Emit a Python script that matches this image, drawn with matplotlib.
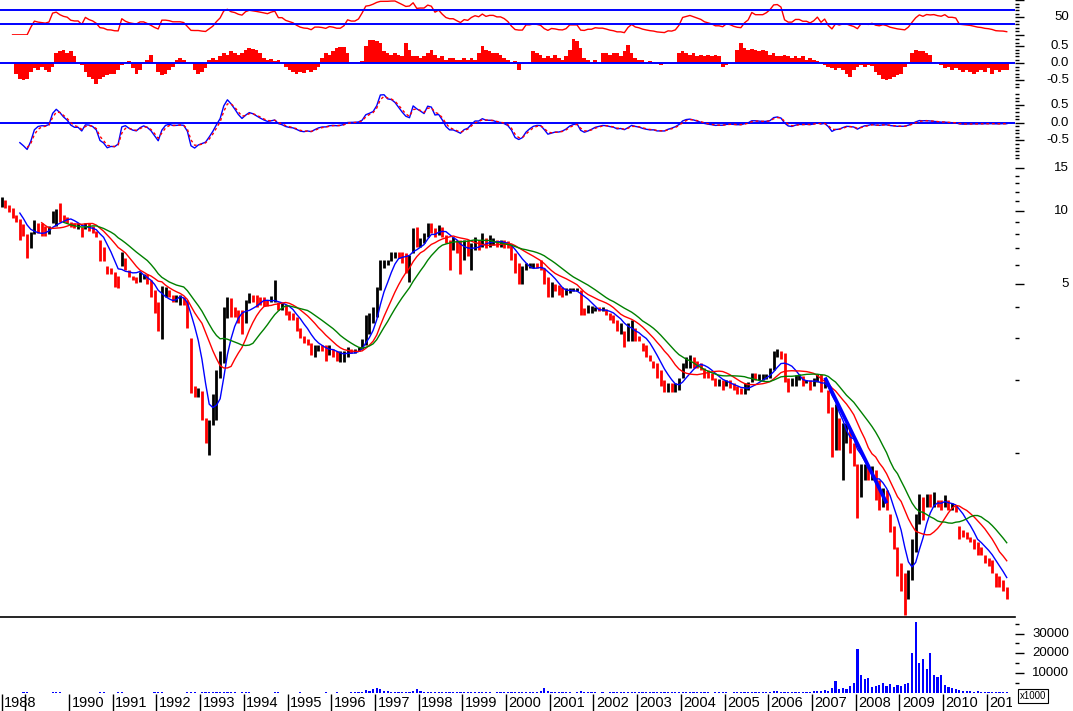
import numpy as np
import pandas as pd
import matplotlib
matplotlib.use("Agg")
import matplotlib.pyplot as plt
from matplotlib.ticker import FixedLocator, NullFormatter
from matplotlib.transforms import blended_transform_factory

# ---------------- data (monthly, Jun 1988 .. Jun 2011) ----------------
START = "1988-06-01"

high = [
    11.4, 11.1, 10.6, 10.3, 9.6, 9.3, 8.8,                                   # 1988
    8.0, 8.2, 9.2, 8.9, 8.9, 8.7, 8.7, 10.0, 10.2, 10.8, 9.6, 9.4,           # 1989
    9.0, 8.9, 8.9, 8.6, 8.9, 8.9, 8.7, 8.3, 7.6, 7.1, 5.9, 5.8,              # 1990
    5.6, 5.4, 6.8, 6.4, 5.7, 5.4, 5.35, 5.6, 5.5, 5.5, 5.2, 4.7,             # 1991
    4.2, 4.9, 4.85, 4.7, 4.5, 4.5, 4.5, 4.4, 4.3, 3.0, 1.9, 1.85,            # 1992
    1.8, 1.4, 1.37, 1.75, 2.2, 2.65, 4.0, 4.4, 4.35, 4.0, 3.9, 3.9,          # 1993
    4.3, 4.6, 4.5, 4.5, 4.4, 4.4, 4.3, 4.45, 5.2, 4.2, 4.15, 4.1,            # 1994
    3.85, 3.8, 3.65, 3.3, 3.05, 2.95, 2.85, 2.8, 2.8, 2.8, 2.8, 2.8,         # 1995
    2.7, 2.65, 2.65, 2.65, 2.75, 2.7, 2.7, 2.75, 2.95, 3.7, 3.8, 4.0,        # 1996
    4.85, 6.3, 6.3, 6.3, 6.8, 6.8, 6.8, 6.8, 6.7, 6.6, 8.5, 8.6,            # 1997
    7.7, 8.1, 8.9, 8.9, 8.5, 8.75, 8.6, 7.95, 7.6, 7.8, 7.6, 7.6,           # 1998
    7.6, 7.6, 7.4, 7.8, 7.6, 8.1, 7.7, 7.95, 7.7, 7.6, 7.6, 7.6,            # 1999
    7.5, 7.2, 6.7, 6.1, 5.9, 6.1, 6.1, 6.1, 6.1, 6.25, 5.8, 5.35,           # 2000
    5.1, 5.0, 4.95, 4.85, 4.8, 4.8, 4.8, 4.8, 4.7, 3.97, 4.1, 4.05,         # 2001
    4.0, 4.0, 4.0, 3.95, 3.8, 3.7, 3.55, 3.45, 3.2, 3.45, 3.55, 3.3,        # 2002
    3.05, 2.85, 2.8, 2.55, 2.4, 2.35, 2.2, 2.0, 1.95, 1.95, 1.95, 2.05,     # 2003
    2.35, 2.5, 2.55, 2.5, 2.4, 2.35, 2.25, 2.2, 2.15, 2.05, 2.03, 2.0,      # 2004
    2.0, 2.0, 1.95, 1.9, 1.85, 1.95, 1.97, 2.15, 2.15, 2.13, 2.13, 2.13,    # 2005
    2.25, 2.65, 2.7, 2.65, 2.6, 2.05, 2.05, 2.1, 2.13, 2.08, 2.0, 2.0,      # 2006
    2.05, 2.13, 2.13, 2.05, 1.82, 1.55, 1.6, 1.4, 1.33, 1.33, 1.25, 1.1,    # 2007
    0.9, 0.9, 0.9, 0.88, 0.88, 0.85, 0.77, 0.72, 0.7, 0.56, 0.5, 0.41,      # 2008
    0.35, 0.32, 0.33, 0.44, 0.56, 0.68, 0.66, 0.68, 0.68, 0.69, 0.64, 0.64, # 2009
    0.67, 0.64, 0.62, 0.61, 0.5, 0.48, 0.47, 0.45, 0.44, 0.43, 0.41, 0.38,  # 2010
    0.37, 0.36, 0.32, 0.31, 0.3, 0.28,                                      # 2011
]
low = [
    10.4, 10.3, 9.9, 9.35, 9.0, 7.6, 7.9,
    6.4, 7.0, 8.0, 8.1, 7.9, 7.9, 8.0, 8.9, 8.7, 9.0, 9.0, 8.9,
    8.6, 8.5, 8.4, 7.8, 8.4, 8.3, 8.1, 7.8, 6.2, 6.2, 5.5, 5.5,
    4.85, 4.8, 5.9, 5.7, 5.35, 5.2, 5.05, 5.1, 5.25, 5.0, 4.4, 3.8,
    3.2, 2.95, 4.4, 4.4, 4.2, 4.2, 4.1, 4.1, 3.3, 1.77, 1.7, 1.7,
    1.37, 1.1, 0.98, 1.3, 1.37, 2.05, 2.35, 3.6, 3.65, 3.65, 3.45, 3.1,
    3.45, 4.15, 4.2, 4.0, 4.1, 4.05, 4.05, 4.2, 4.2, 3.9, 3.9, 3.7,
    3.55, 3.55, 3.2, 3.0, 2.85, 2.8, 2.55, 2.5, 2.65, 2.65, 2.4, 2.55,
    2.5, 2.4, 2.37, 2.37, 2.5, 2.6, 2.6, 2.65, 2.7, 2.8, 3.1, 3.45,
    3.65, 4.7, 5.8, 6.0, 6.2, 6.4, 6.4, 6.1, 5.55, 5.1, 6.7, 7.1,
    7.1, 7.4, 7.8, 8.1, 7.8, 7.95, 7.8, 7.4, 5.7, 6.9, 6.7, 5.5,
    6.3, 6.5, 5.7, 6.9, 6.9, 7.1, 7.0, 7.1, 7.2, 7.1, 7.1, 7.0,
    7.0, 6.3, 5.55, 5.0, 5.0, 5.7, 5.8, 5.8, 5.8, 5.7, 5.0, 4.4,
    4.4, 4.65, 4.5, 4.4, 4.5, 4.6, 4.65, 4.65, 3.7, 3.7, 3.8, 3.8,
    3.85, 3.85, 3.85, 3.7, 3.55, 3.45, 3.2, 3.1, 2.75, 2.9, 2.9, 2.9,
    2.9, 2.65, 2.5, 2.4, 2.25, 2.05, 1.9, 1.78, 1.78, 1.78, 1.78, 1.82,
    2.05, 2.25, 2.25, 2.25, 2.25, 2.2, 2.05, 2.05, 2.0, 1.9, 1.9, 1.82,
    1.9, 1.85, 1.82, 1.75, 1.75, 1.75, 1.82, 1.97, 2.0, 2.0, 2.0, 2.02,
    2.05, 2.2, 2.5, 2.45, 1.97, 1.78, 1.9, 1.9, 2.0, 1.9, 1.95, 1.82,
    1.9, 1.97, 1.78, 1.85, 1.46, 0.96, 1.03, 1.03, 0.77, 1.1, 1.0, 0.88,
    0.54, 0.66, 0.77, 0.77, 0.77, 0.64, 0.58, 0.6, 0.58, 0.47, 0.4, 0.31,
    0.27, 0.215, 0.25, 0.3, 0.39, 0.51, 0.53, 0.6, 0.6, 0.6, 0.6, 0.58,
    0.6, 0.58, 0.58, 0.57, 0.44, 0.45, 0.44, 0.43, 0.4, 0.38, 0.38, 0.35,
    0.34, 0.32, 0.28, 0.28, 0.27, 0.25,
]
close = [
    11.0, 10.6, 10.0, 9.5, 9.1, 8.6, 8.0,
    7.3, 7.9, 8.6, 8.4, 8.3, 8.2, 8.3, 9.5, 9.7, 9.4, 9.2, 9.1,
    8.7, 8.6, 8.6, 8.1, 8.8, 8.5, 8.3, 7.9, 6.7, 6.5, 5.7, 5.6,
    5.1, 5.0, 6.5, 5.9, 5.5, 5.3, 5.15, 5.4, 5.4, 5.1, 4.7, 4.1,
    3.5, 4.6, 4.6, 4.5, 4.3, 4.3, 4.3, 4.2, 3.5, 1.9, 1.8, 1.8,
    1.45, 1.2, 1.4, 1.6, 2.0, 2.4, 3.7, 4.2, 3.9, 3.8, 3.6, 3.5,
    4.1, 4.4, 4.35, 4.3, 4.25, 4.2, 4.15, 4.3, 4.4, 4.0, 4.0, 3.8,
    3.7, 3.6, 3.35, 3.1, 2.95, 2.9, 2.65, 2.75, 2.75, 2.7, 2.6, 2.65,
    2.6, 2.5, 2.5, 2.55, 2.7, 2.65, 2.65, 2.7, 2.9, 3.5, 3.6, 3.9,
    4.7, 6.0, 6.1, 6.1, 6.6, 6.7, 6.6, 6.5, 6.4, 6.5, 8.0, 7.5,
    7.6, 7.6, 8.7, 8.6, 8.0, 8.5, 8.0, 7.5, 7.3, 7.3, 7.0, 6.7,
    7.0, 6.9, 7.2, 7.4, 7.3, 7.6, 7.4, 7.5, 7.5, 7.4, 7.4, 7.3,
    7.1, 6.6, 5.8, 5.6, 5.6, 5.9, 5.9, 5.95, 5.9, 5.8, 5.3, 4.8,
    4.9, 4.8, 4.6, 4.55, 4.6, 4.75, 4.75, 4.75, 3.95, 3.85, 3.9, 3.9,
    3.95, 3.9, 3.9, 3.8, 3.65, 3.55, 3.3, 3.3, 3.05, 3.2, 3.3, 3.05,
    2.95, 2.75, 2.6, 2.45, 2.35, 2.1, 2.0, 1.85, 1.9, 1.85, 1.88, 2.0,
    2.3, 2.35, 2.4, 2.35, 2.3, 2.25, 2.15, 2.1, 2.05, 1.95, 1.95, 1.9,
    1.95, 1.92, 1.85, 1.8, 1.78, 1.85, 1.9, 2.1, 2.05, 2.05, 2.05, 2.1,
    2.2, 2.55, 2.6, 2.55, 2.1, 1.95, 1.95, 2.05, 2.05, 1.97, 1.97, 1.9,
    1.95, 2.05, 1.85, 1.95, 1.55, 1.05, 1.3, 1.15, 1.2, 1.2, 1.07, 0.95,
    0.65, 0.85, 0.85, 0.8, 0.84, 0.7, 0.65, 0.68, 0.62, 0.5, 0.43, 0.35,
    0.3, 0.25, 0.3, 0.4, 0.52, 0.62, 0.58, 0.64, 0.63, 0.64, 0.62, 0.61,
    0.64, 0.6, 0.6, 0.59, 0.47, 0.46, 0.45, 0.44, 0.42, 0.4, 0.39, 0.37,
    0.36, 0.34, 0.3, 0.29, 0.285, 0.26,
]
volume = [
    200, 250, 200, 150, 200, 250, 300,
    300, 250, 200, 250, 200, 150, 200, 300, 350, 300, 250, 200,
    200, 150, 200, 250, 200, 150, 200, 250, 350, 300, 250, 200,
    250, 300, 350, 250, 200, 150, 200, 200, 150, 200, 250, 300,
    350, 400, 250, 200, 150, 200, 150, 200, 300, 500, 350, 250,
    300, 350, 400, 350, 450, 400, 600, 500, 400, 300, 250, 300,
    350, 300, 250, 250, 200, 250, 200, 250, 500, 300, 250, 200,
    250, 200, 250, 300, 250, 200, 250, 200, 200, 250, 300, 250,
    250, 300, 250, 200, 250, 300, 350, 400, 600, 1500, 1200, 1800,
    2500, 2000, 1200, 800, 600, 500, 400, 500, 400, 600, 1200, 2000,
    800, 600, 700, 500, 400, 450, 400, 350, 600, 500, 400, 500,
    400, 350, 500, 400, 350, 300, 350, 300, 250, 300, 350, 400,
    500, 600, 700, 500, 400, 350, 300, 350, 300, 1200, 2500, 800,
    600, 400, 350, 300, 350, 300, 250, 300, 800, 500, 400, 350,
    300, 250, 300, 250, 300, 350, 300, 400, 500, 400, 350, 300,
    300, 350, 400, 350, 300, 400, 500, 450, 400, 350, 300, 400,
    600, 500, 450, 400, 350, 300, 350, 300, 250, 300, 350, 300,
    300, 250, 300, 350, 400, 350, 400, 500, 450, 400, 350, 400,
    500, 900, 800, 600, 700, 500, 400, 350, 300, 350, 300, 400,
    800, 1000, 1000, 1500, 1200, 2500, 6000, 2000, 2500, 2000, 3500, 5000,
    22000, 9000, 7000, 7500, 3000, 3500, 4000, 5000, 3500, 4500, 3000, 4000,
    3500, 4500, 5000, 20000, 36000, 15000, 17000, 12000, 20000, 9000, 8000, 9000,
    4000, 3000, 2500, 2000, 1500, 1200, 1000, 800, 700, 800, 600, 700,
    600, 700, 500, 600, 500, 400,
]
money_flow = [
    0, 0, 0, 0, -0.3, -0.45, -0.5, -0.45, -0.25, -0.15, -0.2, -0.1, -0.2, -0.25,
    -0.1, 0.3, 0.35, 0.38, 0.3, 0.35, 0.2, 0.0, -0.05, -0.25,
    -0.4, -0.45, -0.6, -0.45, -0.4, -0.35, -0.3, -0.3, -0.2, -0.05,
    0.05, 0.08, -0.15, -0.3, -0.2, 0.05, 0.1, 0.25, 0.05, -0.25,
    -0.35, -0.3, -0.2, -0.1, 0.1, 0.15, 0.1, 0.05, 0.05, -0.2,
    -0.3, -0.25, -0.15, 0.1, 0.15, 0.1, 0.2, 0.3, 0.25, 0.35,
    0.3, 0.25, 0.3, 0.4, 0.44, 0.42, 0.4, 0.3, 0.15, 0.1,
    0.12, 0.08, 0.1, 0.05, -0.1, -0.2, -0.25, -0.3, -0.25, -0.28,
    -0.2, -0.25, -0.2, -0.1, 0.15, 0.3, 0.25, 0.35, 0.45, 0.49,
    0.48, 0.3, 0.05, 0.05, 0.05, 0.08, 0.5, 0.68, 0.69, 0.65,
    0.6, 0.35, 0.3, 0.25, 0.3, 0.25, 0.2, 0.6, 0.4, 0.2,
    0.2, 0.15, 0.2, 0.3, 0.4, 0.25, 0.15, 0.2, 0.1, 0.15,
    0.15, 0.1, 0.1, 0.15, 0.1, 0.15, 0.1, 0.3, 0.52, 0.4,
    0.35, 0.3, 0.3, 0.25, 0.15, 0.1, 0.05, 0.08, -0.2, -0.03,
    0.02, 0.05, 0.35, 0.3, 0.25, 0.15, 0.2, 0.15, 0.25, 0.15,
    0.1, 0.2, 0.4, 0.72, 0.65, 0.45, 0.15, 0.1, 0.05, 0.1,
    0.05, 0.3, 0.3, 0.25, 0.3, 0.3, 0.2, 0.35, 0.55, 0.3,
    0.15, 0.1, 0.1, 0.05, 0.08, 0.03, -0.03, -0.05, -0.03, 0.0,
    -0.02, 0.03, 0.3, 0.35, 0.3, 0.25, 0.3, 0.2, 0.25, 0.2,
    0.25, 0.2, 0.25, 0.2, -0.1, -0.05, 0.02, 0.02, 0.4, 0.6,
    0.45, 0.4, 0.42, 0.4, 0.35, 0.4, 0.35, 0.25, 0.3, 0.2,
    0.2, 0.25, 0.2, 0.15, 0.2, 0.15, 0.2, 0.1, 0.15, 0.1,
    0.08, 0.05, -0.05, -0.1, -0.15, -0.2, -0.15, -0.2, -0.3, -0.4,
    -0.2, -0.1, -0.05, -0.1, -0.05, -0.08, -0.25, -0.35, -0.45, -0.5,
    -0.45, -0.4, -0.35, -0.3, -0.1, 0.05, 0.3, 0.4, 0.35, 0.35,
    0.3, 0.25, 0.05, 0.02, -0.05, -0.15, -0.1, -0.2, -0.15, -0.2,
    -0.25, -0.2, -0.25, -0.3, -0.25, -0.2, -0.25, -0.15, -0.3, -0.2,
    -0.25, -0.2, -0.2,
]
# user-drawn trend line (decimal year, price)
trend_x = [2007.30, 2008.71]
trend_y = [2.05, 0.62]

year_labels = ["1988"] + [str(y) for y in range(1990, 2012)]
ma_periods = [6, 12, 18]
ma_colors = ["#0000ff", "#ff0000", "#008000"]
RSI_PERIOD = 7

# ---------------- derived ----------------
n = len(close)
months = pd.date_range(START, periods=n, freq="MS")
t = np.asarray(months.year + (months.month - 0.5) / 12.0, dtype=float)
c = pd.Series(close, dtype=float)
hi = np.array(high, float)
lo = np.array(low, float)

d = c.diff()
gain = d.clip(lower=0).ewm(alpha=1 / RSI_PERIOD, adjust=True).mean()
loss = (-d).clip(lower=0).ewm(alpha=1 / RSI_PERIOD, adjust=True).mean()
rsi_v = (100 * gain / (gain + loss)).to_numpy()
rsi_v[:3] = np.nan

ema_f = c.ewm(span=12 * 12 / 52, adjust=False).mean()
ema_s = c.ewm(span=26 * 12 / 52, adjust=False).mean()
macd = (ema_f - ema_s).to_numpy()
sig = pd.Series(macd).ewm(span=9 * 12 / 52, adjust=False).mean().to_numpy()
macd[:5] = np.nan
sig[:7] = np.nan

# ---------------- figure ----------------
W, H = 1073, 711
plt.rcParams["font.family"] = ["Liberation Sans", "DejaVu Sans"]
fig = plt.figure(figsize=(W / 100, H / 100), dpi=100)
fig.patch.set_facecolor("white")

PXY = 43.7                      # pixels per year
XL = 1990 - 69 / PXY
XR = 1990 + (1015 - 69) / PXY
LABX = 1069 / W

def rect(x0, y0, x1, y1):
    return [x0 / W, 1 - y1 / H, (x1 - x0) / W, (y1 - y0) / H]

def style(ax, major, minor, labels):
    for s in ax.spines.values():
        s.set_visible(False)
    ax.set_facecolor("none")
    ax.set_xlim(XL, XR)
    ax.tick_params(axis="x", bottom=False, labelbottom=False)
    ax.yaxis.set_ticks_position("right")
    ax.yaxis.set_major_locator(FixedLocator(major))
    ax.yaxis.set_minor_locator(FixedLocator(minor))
    ax.yaxis.set_major_formatter(NullFormatter())
    ax.yaxis.set_minor_formatter(NullFormatter())
    ax.tick_params(axis="y", which="major", length=6.5, width=1.0, direction="out", color="black")
    ax.tick_params(axis="y", which="minor", length=3.2, width=1.0, direction="out", color="black")
    tr = blended_transform_factory(fig.transFigure, ax.transData)
    for val, lab in labels:
        ax.text(LABX, val, lab, transform=tr, ha="right", va="center",
                fontsize=9.5, color="black", clip_on=False)

# panel 1: RSI
a1 = fig.add_axes(rect(0, 0, 1015, 35))
a1.set_ylim(-0.5, 100.2)
a1.plot(t, rsi_v, color="#ff0000", lw=1.0)
a1.axhline(70, color="#0000ff", lw=1.4)
a1.axhline(30, color="#0000ff", lw=1.4)
style(a1, [0, 50, 100], [10, 20, 30, 40, 60, 70, 80, 90], [(50, "50")])

# panel 2: money flow histogram
a2 = fig.add_axes(rect(0, 37, 1015, 90))
a2.set_ylim(-0.785, 0.773)
a2.bar(t, money_flow, width=1 / 12, color="#ff0000", linewidth=0)
a2.axhline(0, color="#0000ff", lw=1.4)
style(a2, [-0.5, 0, 0.5], [-0.7, -0.6, -0.4, -0.3, -0.2, -0.1, 0.1, 0.2, 0.3, 0.4, 0.6, 0.7],
      [(0.5, "0.5"), (0.0, "0.0"), (-0.5, "-0.5")])

# panel 3: MACD
a3 = fig.add_axes(rect(0, 92, 1015, 160))
a3.set_ylim(-1.048, 0.862)
a3.axhline(0, color="#0000ff", lw=1.4)
a3.plot(t, macd, color="#0000ff", lw=1.0)
a3.plot(t, sig, color="#ff0000", lw=1.0, dashes=(2, 2))
style(a3, [-0.5, 0, 0.5], [-1.0, -0.9, -0.8, -0.7, -0.6, -0.4, -0.3, -0.2, -0.1, 0.1, 0.2, 0.3, 0.4, 0.6, 0.7, 0.8],
      [(0.5, "0.5"), (0.0, "0.0"), (-0.5, "-0.5")])

# panel 4: price (log)
a4 = fig.add_axes(rect(0, 160, 1015, 617))
a4.set_yscale("log")
a4.set_ylim(0.2101, 16.24)
prev = np.r_[close[0], close[:-1]]
cols = np.where(np.array(close) >= prev, "#000000", "#ff0000")
a4.vlines(t, lo, hi, colors=cols, linewidth=2.0)
for p, col in zip(ma_periods, ma_colors):
    a4.plot(t, c.rolling(p).mean(), color=col, lw=1.0)
a4.plot(trend_x, trend_y, color="#0000ff", lw=2.6, solid_capstyle="butt")
style(a4, [5, 10, 15], [1, 2, 3, 4, 6, 7, 8, 9, 11, 12, 13, 14],
      [(15, "15"), (10, "10"), (5, "5")])
a4.spines["bottom"].set_visible(True)
a4.spines["bottom"].set_color("black")
a4.spines["bottom"].set_linewidth(1.2)

# panel 5: volume
a5 = fig.add_axes(rect(0, 617, 1015, 693))
a5.set_ylim(0, 38380)
a5.bar(t, volume, width=0.05, color="#0000ff", linewidth=0)
style(a5, [10000, 20000, 30000], [5000, 15000, 25000, 35000],
      [(30000, "30000"), (20000, "20000"), (10000, "10000")])
fig.text(1020 / W, 1 - 696 / H, "x1000", fontsize=7, ha="left", va="center",
         bbox=dict(boxstyle="square,pad=0.2", fc="white", ec="black", lw=0.8))

# x axis (years)
xa = fig.add_axes(rect(0, 694, 1012, 711))
xa.set_xlim(XL, XL + 1012 / PXY)
xa.set_ylim(0, 1)
xa.axis("off")
tick_pos = [t[0]] + list(range(1989, 2012))
xa.vlines(tick_pos, 0, 1, color="black", lw=1.0)
lab_pos = [t[0]] + list(range(1990, 2012))
for pos, lab in zip(lab_pos, year_labels):
    xa.text(pos + 2.5 / PXY, 0.47, lab, ha="left", va="center", fontsize=10.5,
            color="black", clip_on=True)

fig.savefig("out.png", dpi=100, facecolor="white")
